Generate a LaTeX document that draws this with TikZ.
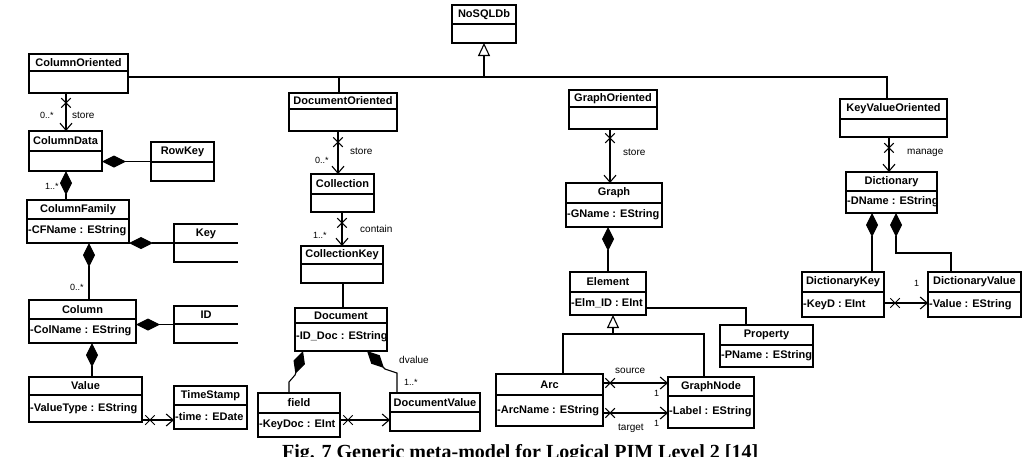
\documentclass[tikz,border=0pt]{standalone}
\usepackage{fontspec}
\setmainfont{Liberation Sans}
\newfontfamily\capfont{Liberation Serif}
\usetikzlibrary{arrows.meta,shapes.misc,calc}

\tikzset{
  box/.style={draw, line width=1.1pt, inner sep=0pt, outer sep=0pt},
  ttl/.style={font=\fontsize{11}{12}\selectfont\bfseries, inner sep=0pt},
  att/.style={font=\fontsize{11}{12}\selectfont\bfseries, inner xsep=1pt, inner ysep=0pt, anchor=west},
  conn/.style={line width=1.1pt},
  comp/.style={conn, {Diamond[length=24pt,width=12pt]}-},
  nav/.style={conn, -{Straight Barb[length=7pt,width=12pt]}},
  gen/.style={conn, -{Triangle[open,length=13pt,width=12pt,fill=white]}},
  xm/.style={cross out, draw, line width=1pt, minimum size=8.5pt, inner sep=0pt},
  lbl/.style={font=\fontsize{10}{11}\selectfont, inner sep=0pt, anchor=west},
  mult/.style={font=\fontsize{9}{10}\selectfont, inner sep=0pt, anchor=west},
}

% name, x1, y1, x2, ydiv, y2, title, attribute
\newcommand\umlbox[8]{%
  \pgfmathsetmacro\bw{#4-#2}\pgfmathsetmacro\bh{#6-#3}%
  \node[box,minimum width=\bw pt,minimum height=\bh pt,anchor=north west] (#1) at (#2,#3) {};
  \draw[line width=1.1pt] (#2,#5) -- (#4,#5);
  \node[ttl] (#1-t) at ({(#2+#4)/2},{(#3+#5)/2}) {#7};
  \node[att] (#1-a) at (#2,{(#5+#6)/2}) {#8};
}
% box whose right side is open
\newcommand\openbox[7]{%
  \pgfmathsetmacro\bw{#4-#2}\pgfmathsetmacro\bh{#6-#3}%
  \node[inner sep=0pt,outer sep=0pt,minimum width=\bw pt,minimum height=\bh pt,anchor=north west] (#1) at (#2,#3) {};
  \draw[line width=1.1pt] (#4,#3) -- (#2,#3) -- (#2,#6) -- (#4,#6);
  \draw[line width=1.1pt] (#2,#5) -- (#4,#5);
  \node[ttl] (#1-t) at ({(#2+#4)/2},{(#3+#5)/2}) {#7};
}

\begin{document}
\begin{tikzpicture}[x=1pt,y=-1pt]
\useasboundingbox (0,0) rectangle (1027,456);
\clip (0,0) rectangle (1027,456);
\fill[white] (0,0) rectangle (1027,456);

% classes
\umlbox{nosql}{452}{5}{516}{24}{43}{NoSQLDb}{}
\umlbox{colo}{29}{54}{128}{71}{93}{ColumnOriented}{}
\umlbox{doco}{289}{93}{397}{109}{131}{DocumentOriented}{}
\umlbox{grpo}{569}{90}{657}{107}{129}{GraphOriented}{}
\umlbox{kvo}{840}{99}{947}{119}{137}{KeyValueOriented}{}

\umlbox{cd}{29}{131}{102}{151}{171}{ColumnData}{}
\umlbox{rk}{151}{142}{214}{162}{181}{RowKey}{}
\umlbox{cf}{27}{200}{129}{219}{243}{ColumnFamily}{-CFName : EString}
\openbox{key}{174}{224}{238}{243}{262}{Key}
\umlbox{col}{29}{300}{136}{319}{343}{Column}{-ColName : EString}
\openbox{id}{174}{306}{238}{324}{343}{ID}
\umlbox{val}{29}{377}{142}{395}{422}{Value}{-ValueType : EString}
\umlbox{ts}{174}{386}{247}{405}{429}{TimeStamp}{-time : EDate}

\umlbox{coll}{311}{174}{374}{194}{212}{Collection}{}
\umlbox{ck}{301}{246}{383}{264}{283}{CollectionKey}{}
\umlbox{doc}{295}{308}{387}{323}{351}{Document}{-ID\_Doc : EString}
\umlbox{fld}{258}{393}{340}{413}{437}{field}{-KeyDoc : EInt}
\umlbox{dv}{390}{393}{480}{412}{431}{DocumentValue}{}

\umlbox{graph}{566}{183}{662}{203}{227}{Graph}{-GName : EString}
\umlbox{el}{570}{272}{646}{292}{315}{Element}{-Elm\_ID : EInt}
\umlbox{prop}{720}{325}{813}{345}{367}{Property}{-PName : EString}
\umlbox{arc}{496}{374}{603}{395}{426}{Arc}{-ArcName : EString}
\umlbox{gn}{668}{377}{754}{396}{428}{GraphNode}{-Label : EString}

\umlbox{dict}{846}{172}{937}{191}{213}{Dictionary}{-DName : EString}
\umlbox{dk}{802}{272}{884}{292}{317}{DictionaryKey}{-KeyD : EInt}
\umlbox{dval}{928}{272}{1021}{292}{317}{DictionaryValue}{-Value : EString}

% inheritance bus
\coordinate (busC) at (484,77);
\coordinate (busD) at (339,77);
\coordinate (busR) at (887,77);
\draw[conn] (colo.east |- busC) -- (busR) -- (kvo.north -| busR);
\draw[conn] (busD) -- (doco.north -| busD);
\draw[gen] (busC) -- (nosql.south -| busC);

% column-oriented branch
\draw[nav] (colo.south -| 66,0) -- node[xm,pos=0.26] (x1) {} (cd.north -| 66,0);
\node[mult] (m1) at (40,115) {0..*};
\node[lbl] (l1) at (72,115) {store};
\draw[comp] (cd.east |- rk.west) -- (rk.west);
\draw[comp] (cd.south -| 66,0) -- (cf.north -| 66,0);
\node[mult] (m2) at (45,186) {1..*};
\draw[comp] (cf.east |- key.west) -- (key.west);
\draw[comp] (cf.south -| 89,0) -- (col.north -| 89,0);
\node[mult] (m3) at (70,287) {0..*};
\draw[comp] (col.east |- id.west) -- (id.west);
\draw[comp] (col.south -| 92,0) -- (val.north -| 92,0);
\draw[nav] (val.east |- 0,420) -- node[xm,pos=0.25] (x2) {} (ts.west |- 0,420);

% document-oriented branch
\draw[nav] (doco.south -| 338,0) -- node[xm,pos=0.26] (x3) {} (coll.north -| 338,0);
\node[lbl] (l2) at (350,151) {store};
\node[mult] (m4) at (315,160) {0..*};
\draw[nav] (coll.south -| 342,0) -- node[xm,pos=0.32] (x4) {} (ck.north -| 342,0);
\node[lbl] (l3) at (360,229) {contain};
\node[mult] (m5) at (313,235) {1..*};
\draw[conn] (ck.south -| 343,0) -- (doc.north -| 343,0);
\draw[comp] (doc.south -| 303,0) -- (295,375) -- (289,382) -- (fld.north -| 289,0);
\draw[comp] (doc.south -| 367,0) -- (385,369) -- (397,373) -- (dv.north -| 397,0);
\node[lbl] (l4) at (399,360) {dvalue};
\node[mult] (m6) at (404,382) {1..*};
\draw[nav] (fld.east |- 0,420) -- node[xm,pos=0.16] (x5) {} (dv.west |- 0,420);

% graph-oriented branch
\draw[nav] (grpo.south -| 610,0) -- node[xm,pos=0.17] (x6) {} (graph.north -| 610,0);
\node[lbl] (l5) at (623,152) {store};
\draw[comp] (graph.south -| 608,0) -- (el.north -| 608,0);
\coordinate (gbus) at (613,334);
\draw[gen] (gbus) -- (el.south -| gbus);
\draw[conn] (arc.north -| 563,0) -- (563,334) -- (704,334) -- (gn.north -| 704,0);
\draw[conn] (el.east |- 0,308) -- (746,308) -- (prop.north -| 746,0);
\draw[nav] (arc.east |- 0,383) -- node[xm,pos=0.11] (x7) {} (gn.west |- 0,383);
\draw[nav] (arc.east |- 0,413) -- node[xm,pos=0.11] (x8) {} (gn.west |- 0,413);
\node[lbl] (l6) at (615,371) {source};
\node[mult] (m7) at (654,393) {1};
\node[lbl] (l7) at (618,428) {target};
\node[mult] (m8) at (654,423) {1};

% key-value branch
\draw[nav] (kvo.south -| 889,0) -- node[xm,pos=0.31] (x9) {} (dict.north -| 889,0);
\node[lbl] (l8) at (907,153) {manage};
\draw[comp] (dict.south -| 872,0) -- (dk.north -| 872,0);
\draw[comp] (dict.south -| 896,0) -- (896,253) -- (951,253) -- (dval.north -| 951,0);
\draw[nav] (dk.east |- 0,303) -- node[xm,pos=0.25] (x10) {} (dval.west |- 0,303);
\node[mult] (m9) at (914,283) {1};

% caption
\node[font=\capfont\bfseries\fontsize{20}{22}\selectfont, anchor=base west, inner sep=0pt] (cap) at (282,458) {Fig. 7 Generic meta-model for Logical PIM Level 2 [14]};
\end{tikzpicture}
\end{document}
